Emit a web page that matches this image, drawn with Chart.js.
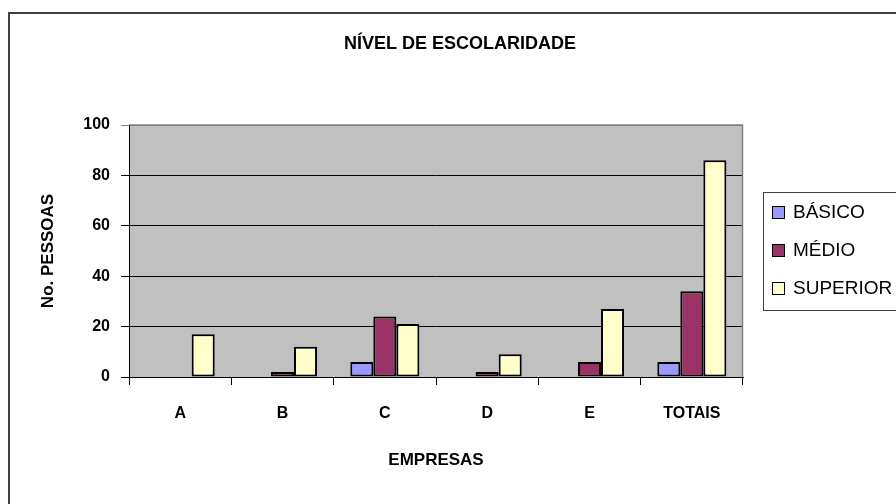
<!DOCTYPE html>
<html>
<head>
<meta charset="utf-8">
<script src="https://cdn.jsdelivr.net/npm/chart.js@4"></script>
<style>
    html, body { margin: 0; padding: 0; background: #fff; }
    canvas { display: block; }
</style>
</head>
<body>
<canvas id="escolaridade" width="896" height="504"></canvas>
<script>
// Data
const empresas = ['A', 'B', 'C', 'D', 'E', 'TOTAIS'];
const basico = [0, 0, 6, 0, 0, 6];
const medio = [0, 2, 24, 2, 6, 34];
const superior = [17, 12, 21, 9, 27, 86];
const yTicks = [0, 20, 40, 60, 80, 100];

const chartTitle = 'NÍVEL DE ESCOLARIDADE';
const FONT = "'Liberation Sans', Arial, sans-serif";

// Grey plot background + outer frame of the picture
const backgroundPlugin = {
    id: 'background',
    beforeDraw(chart) {
        const ctx = chart.ctx;
        const a = chart.chartArea;
        ctx.save();
        ctx.fillStyle = '#fff';
        ctx.fillRect(0, 0, chart.width, chart.height);

        ctx.strokeStyle = '#404040';
        ctx.lineWidth = 2;
        ctx.strokeRect(9, 13, 1000, 1000);

        ctx.fillStyle = '#c0c0c0';
        ctx.fillRect(a.left, a.top, a.right - a.left, a.bottom - a.top);
        ctx.restore();
    },
    afterDatasetsDraw(chart) {
        // grey frame on top/right of the plot, like Excel
        const ctx = chart.ctx;
        const a = chart.chartArea;
        ctx.save();
        ctx.strokeStyle = '#808080';
        ctx.lineWidth = 1.5;
        ctx.beginPath();
        ctx.moveTo(a.left, a.top);
        ctx.lineTo(a.right - 0.5, a.top);
        ctx.lineTo(a.right - 0.5, a.bottom);
        ctx.stroke();
        ctx.restore();
    }
};

// Title centred over the whole picture, and the boxed legend on the right
const boxLegendPlugin = {
    id: 'boxLegend',
    afterDraw(chart) {
        const ctx = chart.ctx;
        ctx.save();
        ctx.fillStyle = '#000';
        ctx.font = 'bold 18px ' + FONT;
        ctx.textAlign = 'center';
        ctx.textBaseline = 'middle';
        ctx.fillText(chartTitle, 460, 44);

        const left = 763, top = 192;
        ctx.strokeStyle = '#404040';
        ctx.lineWidth = 1;
        ctx.strokeRect(left + 0.5, top + 0.5, 200, 118);

        ctx.font = '19px ' + FONT;
        ctx.textAlign = 'left';
        chart.data.datasets.forEach((ds, i) => {
            let y = 212 + i * 38;
            ctx.fillStyle = ds.backgroundColor;
            ctx.fillRect(772.5, y - 5.5, 12, 12);
            ctx.strokeStyle = '#000';
            ctx.strokeRect(772.5, y - 5.5, 12, 12);
            ctx.fillStyle = '#000';
            ctx.fillText(ds.label, 793, y + 1);
        });
        ctx.restore();
    }
};

function makeDataset(label, values, color) {
    return {
        label: label,
        data: values,
        backgroundColor: color,
        borderColor: '#000',
        borderWidth: 2,
        borderSkipped: false,
        barPercentage: 1,
        categoryPercentage: 0.675
    };
}

let ctx = document.getElementById('escolaridade').getContext('2d');

new Chart(ctx, {
    type: 'bar',
    data: {
        labels: empresas,
        datasets: [
            makeDataset('BÁSICO', basico, '#9999ff'),
            makeDataset('MÉDIO', medio, '#993366'),
            makeDataset('SUPERIOR', superior, '#ffffcc')
        ]
    },
    options: {
        responsive: false,
        animation: false,
        devicePixelRatio: 1,
        layout: { padding: { left: 0, right: 153, top: 125, bottom: 0 } },
        plugins: {
            legend: { display: false },
            tooltip: { enabled: false },
            title: { display: false }
        },
        scales: {
            x: {
                grid: {
                    offset: true,
                    drawOnChartArea: false,
                    drawTicks: true,
                    tickLength: 8,
                    color: '#000'
                },
                border: { color: '#000', width: 1 },
                ticks: {
                    color: '#000',
                    padding: 19,
                    font: { family: FONT, size: 16, weight: 'bold' }
                },
                title: {
                    display: true,
                    text: 'EMPRESAS',
                    color: '#000',
                    font: { family: FONT, size: 17, weight: 'bold' },
                    padding: { top: 0, bottom: 33 }
                },
                afterFit(scale) { scale.height = 127; }
            },
            y: {
                min: 0,
                max: 100,
                afterBuildTicks(scale) {
                    scale.ticks = yTicks.map(v => ({ value: v }));
                },
                grid: {
                    color: (c) => (c.tick && c.tick.value === 100) ? '#808080' : '#000',
                    tickLength: 8,
                    drawTicks: true
                },
                border: { color: '#000', width: 1 },
                ticks: {
                    color: '#000',
                    padding: 11,
                    font: { family: FONT, size: 16, weight: 'bold' }
                },
                title: {
                    display: true,
                    text: 'No. PESSOAS',
                    color: '#000',
                    font: { family: FONT, size: 17, weight: 'bold' },
                    padding: { top: 38, bottom: 0 }
                },
                afterFit(scale) { scale.width = 129; }
            }
        }
    },
    plugins: [backgroundPlugin, boxLegendPlugin]
});
</script>
</body>
</html>
